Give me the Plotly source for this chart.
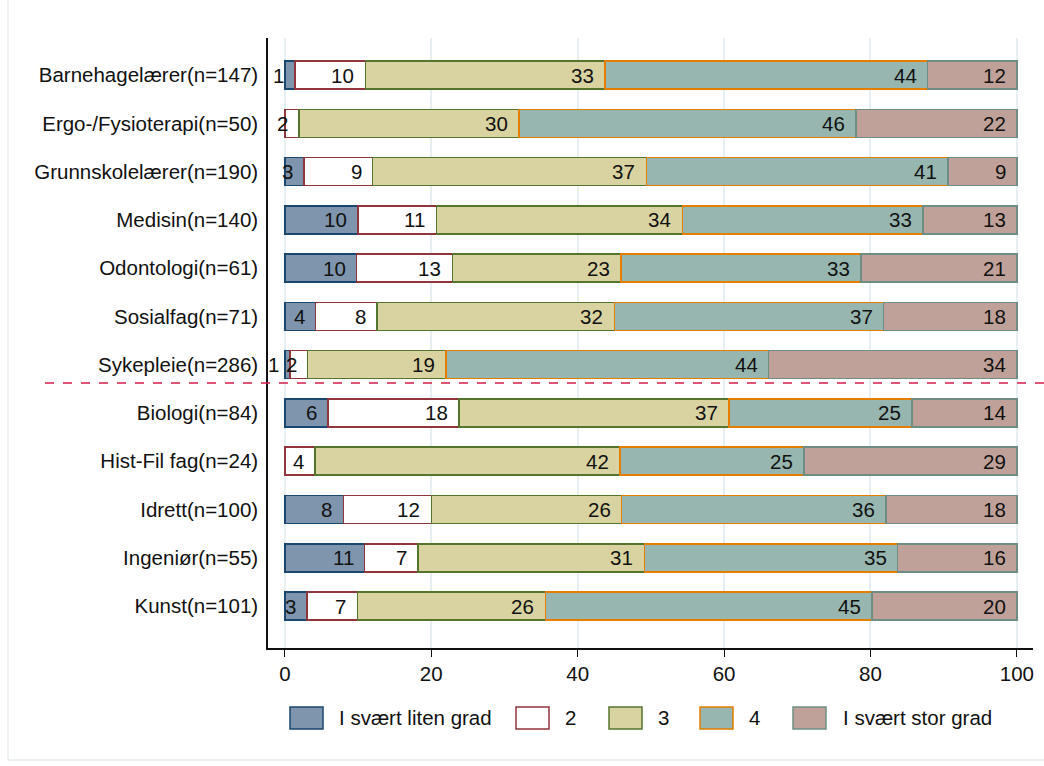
import plotly.graph_objects as go
import numpy as np

categories = [
    "Barnehagelærer(n=147)", "Ergo-/Fysioterapi(n=50)", "Grunnskolelærer(n=190)",
    "Medisin(n=140)", "Odontologi(n=61)", "Sosialfag(n=71)", "Sykepleie(n=286)",
    "Biologi(n=84)", "Hist-Fil fag(n=24)", "Idrett(n=100)", "Ingeniør(n=55)", "Kunst(n=101)",
]
series_names = ["I svært liten grad", "2", "3", "4", "I svært stor grad"]
liten = [1.4, 0.0, 2.6, 10.0, 9.8, 4.2, 0.7, 5.9, 0.0, 8.0, 10.9, 3.0]
to = [9.6, 1.9, 9.4, 10.7, 13.1, 8.4, 2.4, 17.9, 4.1, 12.0, 7.3, 6.9]
tre = [32.7, 30.1, 37.4, 33.6, 23.0, 32.4, 18.9, 36.9, 41.7, 26.0, 30.9, 25.7]
fire = [44.1, 46.0, 41.2, 32.9, 32.8, 36.8, 44.1, 25.0, 25.1, 36.1, 34.6, 44.6]
stor = [12.2, 22.0, 9.4, 12.8, 21.3, 18.2, 33.9, 14.3, 29.1, 17.9, 16.3, 19.8]
x_ticks = [0, 20, 40, 60, 80, 100]

fills = ["#7f95ad", "#ffffff", "#d8d3a0", "#97b6b0", "#c0a19a"]
borders = ["#1a476f", "#90353b", "#55752f", "#e37e00", "#6e8e84"]
FONT = "Liberation Sans, Arial, sans-serif"
FS = 20.5

W, H = 1044, 766
ML, MR, MT, MB = 268, 11, 38, 118
PW, PH = W - ML - MR, H - MT - MB


def px_x(px):
    return (px - ML) / PW


def px_y(py):
    return (H - MB - py) / PH


fig = go.Figure()
all_series = [liten, to, tre, fire, stor]
for name, vals, fc, bc in zip(series_names, all_series, fills, borders):
    fig.add_trace(go.Bar(
        y=categories, x=vals, name=name, orientation="h",
        marker=dict(color=fc, line=dict(color=bc, width=1.5)),
        width=0.58, hoverinfo="x+y+name", showlegend=False,
    ))

# value labels at the inner end of each segment
cum = np.zeros(len(categories))
for vals in all_series:
    v = np.array(vals)
    cum = cum + v
    for cat, val, end in zip(categories, v, cum):
        if val <= 0:
            continue
        fig.add_annotation(
            x=end, y=cat, xref="x", yref="y", text=f"{val:.0f}",
            showarrow=False, xanchor="right", yanchor="middle", xshift=-9,
            font=dict(family=FONT, size=FS, color="#111111"),
        )

# legend drawn below the plot (swatch left px, text left px)
legend_swatch_px = [290, 516, 609, 700, 793]
legend_text_px = [337, 563, 656, 747, 841]
for name, fc, bc, sx, tx in zip(series_names, fills, borders, legend_swatch_px, legend_text_px):
    fig.add_shape(type="rect", xref="paper", yref="paper",
                  x0=px_x(sx), x1=px_x(sx + 33), y0=px_y(729), y1=px_y(707),
                  fillcolor=fc, line=dict(color=bc, width=1.5))
    fig.add_annotation(x=px_x(tx), y=px_y(718), xref="paper", yref="paper", text=name,
                       showarrow=False, xanchor="left", yanchor="middle",
                       font=dict(family=FONT, size=FS, color="#111111"))

# dashed separator between groups
fig.add_shape(type="line", xref="paper", yref="y", x0=px_x(45), x1=px_x(1050), y0=6.38, y1=6.38,
              line=dict(color="#d21f4c", width=1.5, dash="dash"))
# faint outer frame
fig.add_shape(type="rect", xref="paper", yref="paper", x0=px_x(8), x1=px_x(1060),
              y0=px_y(760), y1=px_y(-10),
              line=dict(color="#e6edf0", width=1.5), layer="below")

fig.update_layout(
    barmode="stack", bargap=0.42,
    width=W, height=H,
    margin=dict(l=ML, r=MR, t=MT, b=MB, autoexpand=False),
    paper_bgcolor="white", plot_bgcolor="white",
    font=dict(family=FONT, size=FS, color="#111111"),
    showlegend=False,
    xaxis=dict(range=[-2.3, 102.2], tickvals=x_ticks, ticks="outside", ticklen=7,
               tickcolor="#111111", showline=True, linecolor="#111111", linewidth=1.5,
               showgrid=True, gridcolor="#e8eff2", gridwidth=1.5, zeroline=False,
               tickfont=dict(family=FONT, size=FS)),
    yaxis=dict(range=[11.87, -0.77], type="category", showline=True, linecolor="#111111",
               linewidth=1.5, ticks="", showgrid=False, ticklabelstandoff=4,
               tickfont=dict(family=FONT, size=FS)),
)

fig.write_html("out.html", config={"displayModeBar": False},
               post_script="document.body.style.margin='0';document.body.style.padding='0';")
